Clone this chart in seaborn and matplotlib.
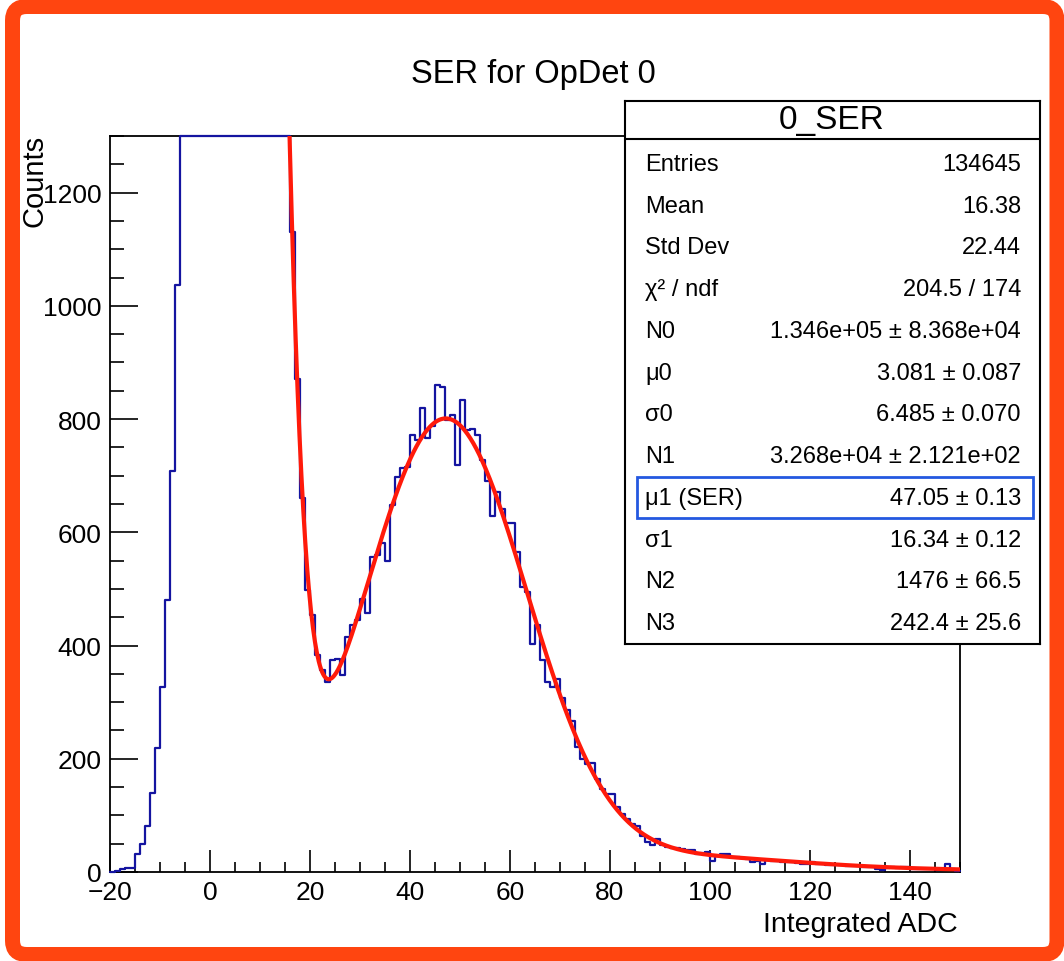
import numpy as np
import pandas as pd
import matplotlib
matplotlib.use("Agg")
import matplotlib.pyplot as plt
import seaborn as sns
from matplotlib.patches import FancyBboxPatch, Rectangle
from matplotlib.transforms import IdentityTransform
from matplotlib.ticker import MultipleLocator

# ---------------- data ----------------
bin_low_edges = list(range(-20, 150))   # 1 ADC wide bins
counts_left = [0, 2, 6, 7, 7, 32, 49, 81, 140, 219, 326, 480, 708, 1037]          # -20 .. -7
counts_pedestal = [1700, 2500, 3400, 4400, 5400, 6300, 7100, 7700, 8100, 8300,
                   8200, 7900, 7300, 6500, 5600, 4700, 3800, 3000, 2400, 1900, 1600]  # -6 .. 14 (off scale)
counts_ser = [1420, 1130, 870, 660, 498, 454, 383, 356, 336, 374,
              377, 348, 415, 436, 445, 483, 457, 557, 560, 581,
              549, 648, 698, 713, 716, 772, 763, 819, 766, 787,
              861, 856, 799, 808, 719, 834, 781, 782, 772, 728,
              690, 628, 672, 642, 616, 616, 565, 503, 494, 403,
              436, 374, 336, 327, 341, 307, 286, 266, 220, 200,
              191, 193, 165, 147, 138, 138, 115, 103, 94, 85,
              82, 64, 53, 47, 59]                                               # 15 .. 89
counts_tail = [47, 44, 43, 42, 40, 39, 38, 31, 33, 36,
               20, 29, 31, 31, 27, 26, 25, 23, 17, 20,
               14, 21, 20, 20, 17, 18, 17, 16, 15, 14,
               17, 15, 14, 13, 12, 12, 12, 11, 11, 10,
               9, 8, 8, 5, 3, 7, 9, 7, 8, 8,
               5, 5, 5, 5, 6, 3, 5, 15, 5, 2]                                   # 90 .. 149
counts = counts_left + counts_pedestal + counts_ser + counts_tail

title = "SER for OpDet 0"
x_label = "Integrated ADC"
y_label = "Counts"
x_ticks = [-20, 0, 20, 40, 60, 80, 100, 120, 140]
y_ticks = [0, 200, 400, 600, 800, 1000, 1200]

stats_title = "0_SER"
stats_labels = ["Entries", "Mean", "Std Dev", "χ² / ndf", "N0", "μ0", "σ0",
                "N1", "μ1 (SER)", "σ1", "N2", "N3"]
stats_values = ["134645", "16.38", "22.44", "204.5 / 174",
                "1.346e+05 ± 8.368e+04", "3.081 ± 0.087", "6.485 ± 0.070",
                "3.268e+04 ± 2.121e+02", "47.05 ± 0.13", "16.34 ± 0.12",
                "1476 ± 66.5", "242.4 ± 25.6"]

# fit parameters (as given in the stats box)
fit_N0, fit_mu0, fit_sigma0 = 1.346e5, 3.081, 6.485
fit_N1, fit_mu1, fit_sigma1 = 3.268e4, 47.05, 16.34
fit_N2, fit_N3 = 1476.0, 242.4
fit_range = [15.0, 150.0]

# ---------------- style ----------------
sns.set_theme(style="white")
plt.rcParams["font.family"] = ["Liberation Sans", "DejaVu Sans"]
plt.rcParams["axes.unicode_minus"] = True
plt.rcParams["text.color"] = "black"
plt.rcParams["xtick.color"] = "black"
plt.rcParams["ytick.color"] = "black"
plt.rcParams["axes.labelcolor"] = "black"

W, H = 1064, 962
fig = plt.figure(figsize=(W / 100, H / 100), dpi=100)
fig.patch.set_facecolor("white")

def fx(px):
    return px / W

def fy(py):
    return 1 - py / H

ax_l, ax_r, ax_t, ax_b = 110, 960, 137, 873
ax = fig.add_axes([fx(ax_l), fy(ax_b), (ax_r - ax_l) / W, (ax_b - ax_t) / H])
ax.set_facecolor("white")

blue = "#1414a0"
edges = [float(e) for e in bin_low_edges] + [float(bin_low_edges[-1] + 1)]
centers = [e + 0.5 for e in bin_low_edges]
ymax = 1300
shown = [min(float(c), ymax) for c in counts]   # ROOT draws off-scale bins at the frame
df = pd.DataFrame({"x": centers, "w": shown})
sns.histplot(data=df, x="x", weights="w", bins=edges, element="step", fill=False,
             color=blue, linewidth=1.6, ax=ax)
for ln in ax.lines:
    ln.set_clip_on(False)
    ln.set_zorder(3)
for pc in ax.collections:
    pc.set_clip_on(False)
    pc.set_zorder(3)

# fit curve from the stats-box parameters
def gauss(x, n, mu, sig):
    return n / (sig * np.sqrt(2 * np.pi)) * np.exp(-0.5 * ((x - mu) / sig) ** 2)

xf = np.linspace(fit_range[0], fit_range[1], 700)
yf = (gauss(xf, fit_N0, fit_mu0, fit_sigma0)
      + gauss(xf, fit_N1, fit_mu1, fit_sigma1)
      + gauss(xf, fit_N2, 2 * fit_mu1, np.sqrt(2) * fit_sigma1)
      + gauss(xf, fit_N3, 3 * fit_mu1, np.sqrt(3) * fit_sigma1))
sns.lineplot(x=xf, y=yf, color="#ff1a0a", linewidth=3.0, ax=ax, sort=False, zorder=4)

ax.set_xlim(-20, 150)
ax.set_ylim(0, ymax)
ax.set_xlabel("")
ax.set_ylabel("")
ax.set_xticks(x_ticks)
ax.set_yticks(y_ticks)
ax.xaxis.set_minor_locator(MultipleLocator(5))
ax.yaxis.set_minor_locator(MultipleLocator(50))
ax.tick_params(axis="both", which="both", direction="in", colors="black",
               labelsize=19, width=1.2, bottom=True, left=True, top=False, right=False)
ax.tick_params(axis="x", which="major", length=16, pad=6)
ax.tick_params(axis="x", which="minor", length=7.5)
ax.tick_params(axis="y", which="major", length=20, pad=6)
ax.tick_params(axis="y", which="minor", length=10)
for s in ax.spines.values():
    s.set_color("black")
    s.set_linewidth(1.3)
    s.set_visible(True)
if ax.get_legend():
    ax.get_legend().remove()

fig.text(fx(533), fy(75), title, ha="center", va="center", fontsize=23.5, color="black")
fig.text(fx(958), fy(925), x_label, ha="right", va="center", fontsize=20.5, color="black")
fig.text(fx(34), fy(135), y_label, ha="center", va="top", rotation=90, fontsize=21, color="black")

# stats box
bx_l, bx_r, bx_t, bx_b = 625, 1040, 102, 645
bax = fig.add_axes([fx(bx_l), fy(bx_b), (bx_r - bx_l) / W, (bx_b - bx_t) / H], zorder=10)
bax.set_facecolor("white")
bax.set_xlim(bx_l, bx_r)
bax.set_ylim(bx_b, bx_t)
bax.set_xticks([])
bax.set_yticks([])
for s in bax.spines.values():
    s.set_color("black")
    s.set_linewidth(1.5)
    s.set_visible(True)
bax.plot([bx_l, bx_r], [140, 140], color="black", lw=1.5)
bax.text(832, 121, stats_title, ha="center", va="center", fontsize=24, color="black")
row0, dy = 165, (624 - 165) / 11
for i, (lab, val) in enumerate(zip(stats_labels, stats_values)):
    yy = row0 + i * dy
    bax.text(645, yy, lab, ha="left", va="center", fontsize=17, color="black")
    bax.text(1021, yy, val, ha="right", va="center", fontsize=17, color="black")
bax.add_patch(Rectangle((637, 478), 396, 41, fill=False, edgecolor="#2458e0", lw=2))

# orange frame
frame = FancyBboxPatch((12.5, 6.5), W - 12.5 - 7, H - 6.5 - 7.5,
                       boxstyle="round,pad=0,rounding_size=14",
                       transform=IdentityTransform(), fill=False,
                       edgecolor="#ff4510", linewidth=15 * 72 / 100)
fig.patches.append(frame)

fig.savefig("out.png", dpi=100)
